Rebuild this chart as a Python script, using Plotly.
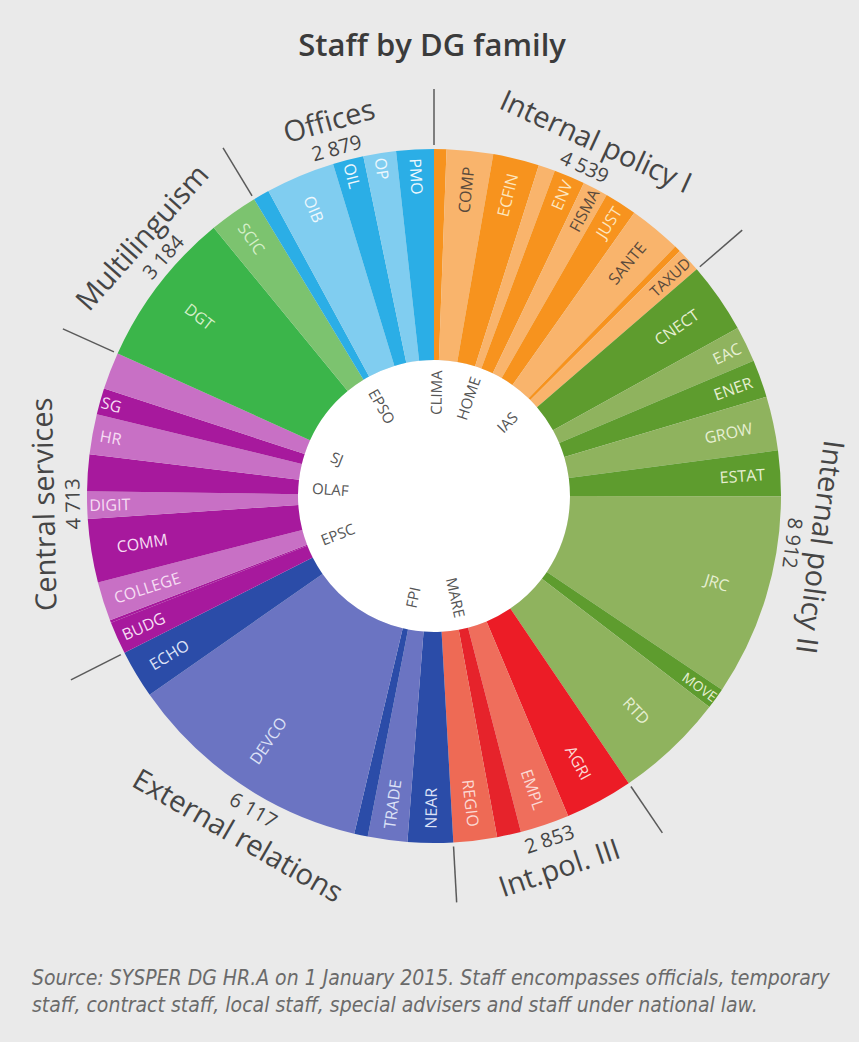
import math
import plotly.graph_objects as go

# ---------------- data ----------------
groups = ["Internal policy I", "Internal policy II", "Int.pol. III",
          "External relations", "Central services", "Multilinguism", "Offices"]

ip1_dgs = ["CLIMA", "COMP", "ECFIN", "HOME", "ENV", "FISMA", "JUST", "SANTE", "IAS", "TAXUD"]
ip1_staff = [191, 717, 713, 258, 481, 392, 499, 811, 97, 380]

ip2_dgs = ["CNECT", "EAC", "ENER", "GROW", "ESTAT", "JRC", "MOVE", "RTD"]
ip2_staff = [1092, 553, 582, 835, 703, 3123, 328, 1696]

ip3_dgs = ["AGRI", "EMPL", "MARE", "REGIO"]
ip3_staff = [1050, 760, 370, 673]

ext_dgs = ["NEAR", "TRADE", "FPI", "DEVCO", "ECHO"]
ext_staff = [700, 610, 210, 3850, 747]

cen_dgs = ["BUDG", "EPSC", "COLLEGE", "COMM", "DIGIT", "OLAF", "HR", "SG", "SJ"]
cen_staff = [503, 40, 603, 980, 422, 566, 620, 405, 574]

mul_dgs = ["DGT", "SCIC"]
mul_staff = [2430, 754]

off_dgs = ["EPSO", "OIB", "OIL", "OP", "PMO"]
off_staff = [250, 1070, 475, 505, 579]

# DGs whose label is written inside the hole
hole_labelled = ["CLIMA", "HOME", "IAS", "MARE", "FPI", "EPSC", "OLAF", "SJ", "EPSO"]

# ---------------- styles ----------------
group_dgs = [ip1_dgs, ip2_dgs, ip3_dgs, ext_dgs, cen_dgs, mul_dgs, off_dgs]
group_staff = [ip1_staff, ip2_staff, ip3_staff, ext_staff, cen_staff, mul_staff, off_staff]

palettes = {
    "Internal policy I": ["#F7931E", "#F9B46C"],
    "Internal policy II": ["#5E9C2E", "#8FB35E"],
    "External relations": ["#2B4CA8", "#6B74C2"],
    "Central services": ["#A7199D", "#C870C5"],
    "Offices": ["#2BAEE6", "#80CDF0"],
}
# shade index (0 dark, 1 light) where the simple alternation does not hold
shade_override = {"EPSC": 0, "COLLEGE": 1, "COMM": 0, "DIGIT": 1, "OLAF": 0, "HR": 1, "SG": 0, "SJ": 1}
special_cols = {"AGRI": "#EC1C26", "EMPL": "#EF6E5C", "MARE": "#E6232B", "REGIO": "#EE6A55",
                "DGT": "#3BB54A", "SCIC": "#7CC36F"}
dark_text_dgs = {"COMP", "FISMA", "SANTE", "TAXUD"}
text_cols_group = {
    "Internal policy I": "#FDE6BE",
    "Internal policy II": "#E6EFD2",
    "Int.pol. III": "#FBD9D4",
    "External relations": "#DCE1F6",
    "Central services": "#F6DDF3",
    "Multilinguism": "#D5EFC9",
    "Offices": "#EEF8FD",
}

names, vals, cols, tcols = [], [], [], []
for g, dgs, st in zip(groups, group_dgs, group_staff):
    for i, (d, v) in enumerate(zip(dgs, st)):
        names.append(d)
        vals.append(v)
        if d in special_cols:
            cols.append(special_cols[d])
        else:
            cols.append(palettes[g][shade_override.get(d, i % 2)])
        tcols.append("#5A4A3C" if d in dark_text_dgs else text_cols_group[g])

group_tot = [sum(s) for s in group_staff]
grand = sum(group_tot)

W, H = 859, 1042
CX, CY = 434, 496
R_OUT, R_IN, R_SEP = 347, 136, 425


def dom(r):
    return dict(x=[(CX - r) / W, (CX + r) / W], y=[1 - (CY + r) / H, 1 - (CY - r) / H])


def to_paper(theta_deg, r_px):
    t = math.radians(theta_deg)
    return (CX + r_px * math.sin(t)) / W, 1 - (CY - r_px * math.cos(t)) / H


FONT = "Open Sans, Roboto, DejaVu Sans, sans-serif"
TRANSP = ["rgba(0,0,0,0)"] * len(names)

fig = go.Figure()

# white centre disc
fig.add_trace(go.Pie(
    labels=["all staff"], values=[grand], sort=False, domain=dom(R_IN),
    marker=dict(colors=["#FFFFFF"], line=dict(width=0)),
    textinfo="none", hoverinfo="skip", showlegend=False))

# main donut
fig.add_trace(go.Pie(
    labels=names, values=vals, sort=False, direction="clockwise", rotation=0,
    hole=R_IN / R_OUT, domain=dom(R_OUT),
    marker=dict(colors=cols, line=dict(width=0)),
    textinfo="none", hoverinfo="skip", showlegend=False))

# labels near the outer rim
fig.add_trace(go.Pie(
    labels=names, values=vals, sort=False, direction="clockwise", rotation=0,
    hole=245 / R_OUT, domain=dom(R_OUT),
    marker=dict(colors=TRANSP, line=dict(width=0)),
    text=[("" if n in hole_labelled else n) for n in names],
    textinfo="text", textposition="inside", insidetextorientation="radial",
    textfont=dict(size=16, color=tcols, family=FONT),
    hoverinfo="skip", showlegend=False))

annotations = []

# labels inside the hole (radial, readable)
cum = 0
for n, v in zip(names, vals):
    mid = (cum + v / 2) / grand * 360
    cum += v
    if n in hole_labelled:
        x, y = to_paper(mid, 104)
        rot = mid - 90 if mid < 180 else mid - 270
        annotations.append(dict(
            xref="paper", yref="paper", x=x, y=y, xanchor="center", yanchor="middle",
            text=n, textangle=rot, showarrow=False,
            font=dict(size=15, color="#555555", family=FONT)))

# group names and totals around the ring
cum = 0
bounds = []
for g, t in zip(groups, group_tot):
    bounds.append(cum / grand * 360)
    mid = (cum + t / 2) / grand * 360
    cum += t
    if mid <= 100:
        rot = mid
    elif mid < 260:
        rot = mid - 180
    else:
        rot = mid - 360
    num = f"{t:,}".replace(",", " ")
    x, y = to_paper(mid, 391)
    annotations.append(dict(
        xref="paper", yref="paper", x=x, y=y, xanchor="center", yanchor="middle",
        text=g, textangle=rot, showarrow=False,
        font=dict(size=29, color="#454545", family=FONT)))
    x, y = to_paper(mid, 362)
    annotations.append(dict(
        xref="paper", yref="paper", x=x, y=y, xanchor="center", yanchor="middle",
        text=num, textangle=rot, showarrow=False,
        font=dict(size=20, color="#454545", family=FONT)))

# separator ticks between groups
for b in bounds:
    fig.add_trace(go.Scatterpolar(
        r=[351, 407], theta=[b, b], mode="lines",
        line=dict(color="#5A5A5A", width=1.5),
        hoverinfo="skip", showlegend=False, subplot="polar"))

annotations.append(dict(
    xref="paper", yref="paper", x=30 / W, y=1 - 964 / H,
    xanchor="left", yanchor="top", align="left", showarrow=False,
    text=("<i>Source: SYSPER DG HR.A on 1 January 2015. Staff encompasses officials, temporary"
          "<br>staff, contract staff, local staff, special advisers and staff under national law.</i>"),
    font=dict(size=21, color="#6A6A6A",
              family="Liberation Sans Narrow, DejaVu Sans Condensed, Roboto, sans-serif"),
))

fig.update_layout(
    width=W, height=H,
    margin=dict(l=0, r=0, t=0, b=0),
    paper_bgcolor="#EAEAEA",
    plot_bgcolor="#EAEAEA",
    polar=dict(
        domain=dom(R_SEP),
        bgcolor="rgba(0,0,0,0)",
        radialaxis=dict(range=[0, R_SEP], visible=False),
        angularaxis=dict(rotation=90, direction="clockwise", visible=False),
    ),
    title=dict(text="Staff by DG family", x=0.503, xanchor="center",
               y=1 - 45 / H, yanchor="middle",
               font=dict(size=31, color="#3B3B3B", family=FONT, weight=600)),
    annotations=annotations,
)

fig.write_html("out.html")
